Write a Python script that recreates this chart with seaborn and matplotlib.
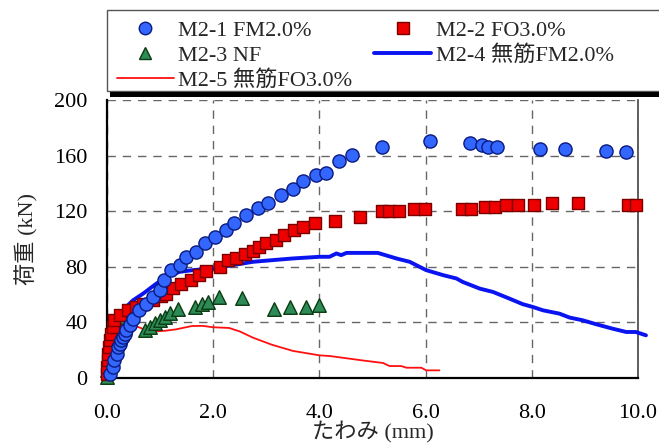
import numpy as np
import pandas as pd
import matplotlib
matplotlib.use("Agg")
import matplotlib.pyplot as plt
from matplotlib.patches import Rectangle
from matplotlib.lines import Line2D
import seaborn as sns

# ---------------- data ----------------
m21_x = [0.05, 0.11, 0.14, 0.18, 0.21, 0.24, 0.27, 0.30, 0.33, 0.36, 0.43, 0.49, 0.61, 0.74,
         0.87, 0.99, 1.08, 1.21, 1.37, 1.49, 1.68, 1.84, 2.03, 2.24, 2.40, 2.62, 2.84, 3.03,
         3.28, 3.50, 3.70, 3.94, 4.13, 4.37, 4.62, 5.18, 6.09, 6.84, 7.07, 7.18, 7.34, 8.16,
         8.62, 9.40, 9.78]
m21_y = [3.1, 7.9, 12.7, 17.5, 22.3, 24.7, 27.1, 29.5, 31.9, 34.3, 37.9, 42.7, 48.7, 53.5,
         58.3, 63.1, 70.3, 77.6, 81.2, 87.2, 90.8, 96.8, 101.6, 106.8, 111.6, 117.2, 122.0, 125.6,
         131.6, 135.9, 141.9, 146.0, 147.7, 156.3, 160.4, 166.4, 170.7, 169.3, 167.6, 166.4, 166.4, 164.7,
         164.7, 163.5, 162.3]

m22_x = [0.00, 0.00, 0.01, 0.02, 0.04, 0.05, 0.08, 0.11, 0.14, 0.24, 0.39, 0.55, 0.68, 0.87,
         1.02, 1.12, 1.24, 1.40, 1.59, 1.74, 1.87, 2.12, 2.28, 2.43, 2.59, 2.75, 2.87, 3.00,
         3.18, 3.34, 3.53, 3.69, 3.91, 4.29, 4.77, 5.17, 5.31, 5.49, 5.79, 5.98, 6.69, 6.85,
         7.11, 7.30, 7.52, 7.74, 8.05, 8.38, 8.87, 9.82, 9.96]
m22_y = [3.1, 7.9, 12.7, 17.5, 22.3, 27.1, 31.9, 36.7, 41.5, 45.1, 48.7, 51.1, 53.1, 55.9,
         58.8, 60.7, 65.1, 67.5, 70.3, 74.0, 77.1, 80.0, 84.8, 86.0, 89.1, 91.5, 94.4, 96.8,
         99.2, 103.2, 106.4, 108.8, 111.6, 113.1, 116.0, 120.0, 120.0, 120.0, 121.7, 121.7, 121.7, 121.7,
         123.2, 123.2, 124.4, 124.4, 124.4, 126.1, 126.1, 124.4, 124.4]

m23_x = [0.00, 0.00, 0.02, 0.04, 0.05, 0.07, 0.09, 0.11, 0.14, 0.18, 0.23, 0.72, 0.81, 0.90,
         1.00, 1.09, 1.19, 1.34, 1.66, 1.78, 1.91, 2.10, 2.54, 3.15, 3.44, 3.75, 4.00]
m23_y = [0.7, 5.5, 10.3, 15.1, 19.9, 24.7, 29.5, 34.3, 37.9, 41.5, 43.9, 34.5, 36.9, 39.4,
         41.7, 44.1, 46.5, 49.4, 51.3, 53.0, 54.9, 58.5, 57.3, 49.9, 51.1, 51.1, 52.3]

m24_x = [0.00, 0.05, 0.10, 0.14, 0.24, 0.36, 0.49, 0.68, 0.93, 1.18, 1.37, 1.62, 1.99, 2.37,
         2.75, 3.12, 3.50, 4.00, 4.19, 4.32, 4.41, 4.51, 5.10, 5.45, 5.70, 6.01, 6.33, 6.58,
         6.70, 7.02, 7.27, 7.58, 7.83, 8.02, 8.21, 8.52, 8.71, 8.96, 9.21, 9.52, 9.78, 9.96, 10.15]
m24_y = [0.0, 10.0, 22.0, 32.0, 41.5, 51.1, 55.9, 60.7, 67.9, 74.0, 76.4, 77.6, 78.8, 81.2,
         83.6, 84.8, 86.0, 87.2, 87.2, 89.6, 88.4, 90.0, 90.0, 86.0, 83.6, 77.6, 74.0, 71.6,
         69.1, 64.3, 61.9, 57.1, 53.1, 51.1, 48.7, 46.3, 43.5, 41.5, 38.7, 35.5, 33.1, 33.1, 30.7]

m25_x = [0.00, 0.03, 0.06, 0.10, 0.20, 0.35, 0.50, 0.70, 0.90, 1.10, 1.30, 1.60, 1.80, 2.00,
         2.30, 2.50, 2.75, 3.10, 3.50, 4.00, 4.20, 4.80, 5.20, 5.32, 5.54, 5.64, 5.92, 6.01, 6.26]
m25_y = [0.0, 10.0, 20.0, 30.0, 37.0, 39.0, 38.0, 35.0, 33.5, 34.0, 35.0, 37.4, 37.5, 36.5,
         36.0, 33.5, 29.0, 24.0, 19.5, 16.3, 15.8, 12.7, 10.8, 8.6, 8.6, 7.4, 7.4, 5.5, 5.5]

labels = ["M2-1 FM2.0%", "M2-2 FO3.0%", "M2-3 NF", "M2-4 無筋FM2.0%", "M2-5 無筋FO3.0%"]
x_ticks = [0.0, 2.0, 4.0, 6.0, 8.0, 10.0]
x_tick_labels = ["0.0", "2.0", "4.0", "6.0", "8.0", "10.0"]
y_ticks = [0, 40, 80, 120, 160, 200]
x_label = "たわみ (mm)"
y_label = "荷重 (kN)"

# ---------------- style ----------------
sns.set_theme(style="white")
plt.rcParams["font.family"] = ["Liberation Serif", "Noto Sans CJK JP"]
plt.rcParams["axes.unicode_minus"] = False
FS = 16

fig = plt.figure(figsize=(6.59, 4.46), dpi=100)
ax = fig.add_axes([107/659, 1-378/446, (638-107)/659, (378-100)/446])

df1 = pd.DataFrame({"x": m21_x, "y": m21_y})
df2 = pd.DataFrame({"x": m22_x, "y": m22_y})
df3 = pd.DataFrame({"x": m23_x, "y": m23_y})
df4 = pd.DataFrame({"x": m24_x, "y": m24_y})
df5 = pd.DataFrame({"x": m25_x, "y": m25_y})

sns.lineplot(data=df5, x="x", y="y", ax=ax, sort=False, estimator=None,
             color="#ff1010", linewidth=1.3, zorder=3)
sns.lineplot(data=df4, x="x", y="y", ax=ax, sort=False, estimator=None,
             color="#0a14f0", linewidth=2.8, zorder=3, clip_on=False)
sns.scatterplot(data=df3, x="x", y="y", ax=ax, marker="^", s=95,
                color="#2e8b57", edgecolor="#0a3a10", linewidth=1.0, zorder=4, clip_on=False)
sns.scatterplot(data=df2, x="x", y="y", ax=ax, marker="s", s=80,
                color="#ee0000", edgecolor="#7a0000", linewidth=1.0, zorder=5, clip_on=False)
sns.scatterplot(data=df1, x="x", y="y", ax=ax, marker="o", s=90,
                color="#3366ff", edgecolor="#0a1a80", linewidth=1.0, zorder=6, clip_on=False)

ax.set_xlim(0, 10)
ax.set_ylim(0, 200)
ax.set_xticks(x_ticks)
ax.set_xticklabels(x_tick_labels)
ax.set_yticks(y_ticks)
ax.tick_params(axis="x", length=0, pad=19, labelsize=FS, colors="black")
ax.tick_params(axis="y", length=0, pad=14, labelsize=FS, colors="black")
ax.set_xlabel(x_label, fontsize=FS, labelpad=-1.5)
ax.set_ylabel(y_label, fontsize=FS, labelpad=11)
ax.grid(True, color="#666666", linestyle=(0, (6, 5)), linewidth=1.0)
ax.set_axisbelow(True)
for s in ["left", "bottom"]:
    ax.spines[s].set_color("black")
    ax.spines[s].set_linewidth(1.6)
ax.spines["right"].set_color("#444444")
ax.spines["right"].set_linewidth(1.2)
ax.spines["top"].set_visible(False)

# ---------------- legend ----------------
h1 = Line2D([], [], linestyle="none", marker="o", markersize=9, markerfacecolor="#3366ff",
            markeredgecolor="#0a1a80", markeredgewidth=1.0)
h2 = Line2D([], [], linestyle="none", marker="s", markersize=8.5, markerfacecolor="#ee0000",
            markeredgecolor="#7a0000", markeredgewidth=1.0)
h3 = Line2D([], [], linestyle="none", marker="^", markersize=9, markerfacecolor="#2e8b57",
            markeredgecolor="#0a3a10", markeredgewidth=1.0)
h4 = Line2D([], [], color="#0a14f0", linewidth=2.8)
h5 = Line2D([], [], color="#ff1010", linewidth=1.3)
handles = [h1, h3, h5, h2, h4]
labs = [labels[0], labels[2], labels[4], labels[1], labels[3]]
leg = fig.legend(handles, labs, loc="upper left", bbox_to_anchor=(107/659, 1-10/446),
                 ncol=2, fontsize=FS, frameon=False, handlelength=2.55,
                 handletextpad=0.2, columnspacing=1.0, labelspacing=0.2,
                 borderaxespad=0, borderpad=0.45)
# legend box (extends past the right edge of the figure) and its dark shadow bar
fig.patches.append(Rectangle((107/659, 1-91/446), 1.02-107/659, 81/446,
                             transform=fig.transFigure, facecolor="white",
                             edgecolor="#555555", linewidth=1.0, zorder=0))
fig.patches.append(Rectangle((110/659, 1-97/446), 1-110/659, 5/446,
                             transform=fig.transFigure, facecolor="black",
                             edgecolor="none", zorder=1))

fig.savefig("out.png", dpi=100)
